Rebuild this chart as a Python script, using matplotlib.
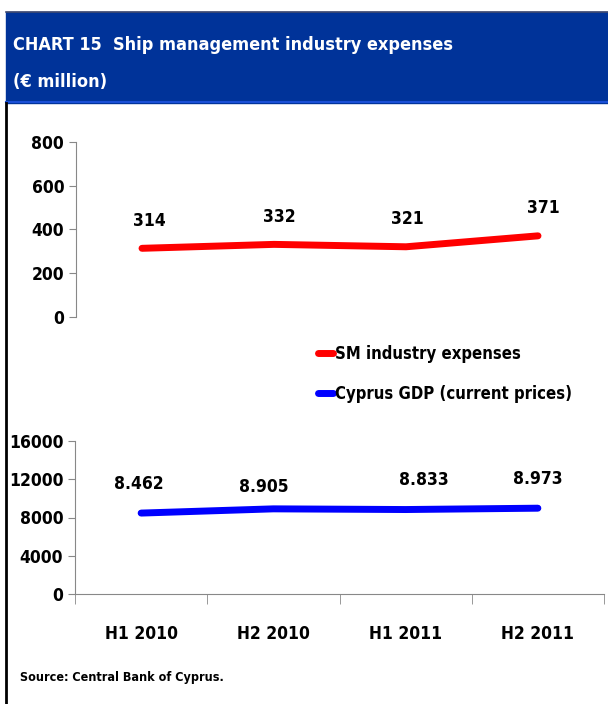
import numpy as np
import matplotlib
matplotlib.use("Agg")
import matplotlib.pyplot as plt
from matplotlib.patches import Rectangle
from matplotlib.lines import Line2D

# data
periods = ['H1 2010', 'H2 2010', 'H1 2011', 'H2 2011']
sm_expenses = [314, 332, 321, 371]
cyprus_gdp = [8462, 8905, 8833, 8973]
gdp_labels = ['8.462', '8.905', '8.833', '8.973']
sm_ticks = [0, 200, 400, 600, 800]
gdp_ticks = [0, 4000, 8000, 12000, 16000]

plt.rcParams['font.family'] = ['DejaVu Sans']
plt.rcParams['font.stretch'] = 'condensed'
plt.rcParams['font.weight'] = 'bold'

W, H = 608, 704
fig = plt.figure(figsize=(W / 100, H / 100), dpi=100)

def fx(px):
    return px / W

def fy(py):
    return 1 - py / H

# header band
fig.patches.append(Rectangle((fx(6), fy(103)), 1 - fx(6), fy(12) - fy(103),
                             transform=fig.transFigure, color='#003399', zorder=0))
fig.lines.append(Line2D([fx(6), 1], [fy(12), fy(12)], transform=fig.transFigure,
                        color='#404a70', lw=1.2))
fig.lines.append(Line2D([fx(6), 1], [fy(102), fy(102)], transform=fig.transFigure,
                        color='#1a4fd6', lw=1.5))
fig.lines.append(Line2D([fx(6), fx(6)], [fy(103), 0], transform=fig.transFigure,
                        color='black', lw=2))
fig.text(fx(13), fy(45), 'CHART 15  Ship management industry expenses', color='white',
         fontsize=13, va='center', ha='left')
fig.text(fx(13), fy(82), '(€ million)', color='white',
         fontsize=13, va='center', ha='left')

x = np.arange(len(periods))

# top panel
ax1 = fig.add_axes([fx(76), fy(317), fx(604) - fx(76), fy(142) - fy(317)])
l1, = ax1.plot(x, sm_expenses, color='#ff0000', lw=5, solid_capstyle='round',
               label='SM industry expenses')
ax1.set_xlim(-0.5, 3.5)
ax1.set_ylim(0, 800)
ax1.set_yticks(sm_ticks)
ax1.set_xticks([])
for s in ['top', 'right', 'bottom']:
    ax1.spines[s].set_visible(False)
ax1.spines['left'].set_color('#888888')
ax1.tick_params(axis='y', colors='#888888', labelcolor='black', labelsize=12.5, length=5)
sm_off = [5, 4, 1, 4]
for i, v in enumerate(sm_expenses):
    ax1.annotate(str(v), (x[i], v), xytext=(sm_off[i], 20), textcoords='offset points',
                 ha='center', va='center', fontsize=12.5)

# bottom panel
ax2 = fig.add_axes([fx(75), fy(594), fx(604) - fx(75), fy(441) - fy(594)])
l2, = ax2.plot(x, cyprus_gdp, color='#0000ff', lw=5, solid_capstyle='round',
               label='Cyprus GDP (current prices)')
ax2.set_xlim(-0.5, 3.5)
ax2.set_ylim(0, 16000)
ax2.set_yticks(gdp_ticks)
ax2.set_xticks(x)
ax2.set_xticklabels(periods)
ax2.set_xticks(np.arange(-0.5, 4, 1), minor=True)
for s in ['top', 'right']:
    ax2.spines[s].set_visible(False)
ax2.spines['left'].set_color('#888888')
ax2.spines['bottom'].set_color('#888888')
ax2.tick_params(axis='y', colors='#888888', labelcolor='black', labelsize=12.5, length=5)
ax2.tick_params(axis='x', which='major', length=0, labelsize=12.5, pad=22)
ax2.tick_params(axis='x', which='minor', length=7, color='#888888')
gdp_off = [-2, -7, 13, 0]
gdp_dy = [21, 16, 21, 21]
for i, v in enumerate(cyprus_gdp):
    ax2.annotate(gdp_labels[i], (x[i], v), xytext=(gdp_off[i], gdp_dy[i]),
                 textcoords='offset points', ha='center', va='center', fontsize=12.5)

fig.legend(handles=[l1, l2], loc='upper left', bbox_to_anchor=(fx(318), fy(345)),
           frameon=False, fontsize=12, handlelength=0.9, handletextpad=0.1,
           labelspacing=1.3, borderaxespad=0, borderpad=0)

fig.text(fx(20), fy(677), 'Source: Central Bank of Cyprus.', fontsize=9,
         va='center', ha='left')

fig.savefig('out.png', dpi=100)
